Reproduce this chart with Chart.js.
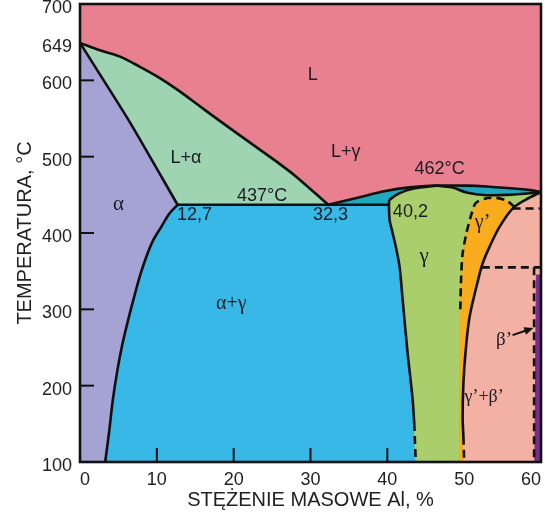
<!DOCTYPE html>
<html>
<head>
<meta charset="utf-8">
<script src="https://cdn.jsdelivr.net/npm/chart.js@4/dist/chart.umd.min.js"></script>
<style>
  html, body { margin: 0; padding: 0; background: #ffffff; }
  #wrap { width: 547px; height: 517px; }
</style>
</head>
<body>
<div id="wrap"><canvas id="c" width="547" height="517"></canvas></div>
<script>
// Mg–Al equilibrium diagram, 0–60 wt% Al, 100–700 °C

// Axis ticks
const xTicks = [0, 10, 20, 30, 40, 50, 60];
const yTicks = [100, 200, 300, 400, 500, 600, 649, 700];
const xTickMarks = [10, 20, 30, 40];
const yTickMarks = [200, 300, 400, 500, 600];

// Liquidus of the Mg solid solution (649 °C -> eutectic 32.3 %, 437 °C)
const liqAlphaX = [0, 2.59, 5.14, 7.69, 10.24, 12.8, 15.34, 17.92, 20.44, 23.0, 25.54, 28.1, 32.3];
const liqAlphaT = [649, 639.3, 631.4, 618.3, 603.8, 586.8, 568.0, 548.8, 530.5, 512.1, 493.8, 474.1, 437];

// Solidus of alpha
const solAlphaX = [0, 6.5, 12.7];
const solAlphaT = [649, 545, 437];

// Solvus of alpha
const solvAlphaX = [12.7, 11.57, 10.55, 9.53, 8.61, 7.83, 7.04, 6.26, 5.49, 4.87, 4.27, 3.82, 3.28];
const solvAlphaT = [437, 424.6, 407.6, 390.6, 368.3, 344.8, 316, 285.9, 253.1, 220.4, 181.2, 141.9, 100];

// Eutectic isotherm
const eutX = [12.7, 40.2];
const eutT = [437, 437];

// Gamma liquidus, Mg side and Al side of the 462 °C maximum
const liqGLX = [32.3, 36.4, 39.6, 42.9, 46.5];
const liqGLT = [437, 446.9, 454.7, 459.8, 462];
const liqGRX = [46.5, 50.2, 52.9, 56.8, 58.9, 60];
const liqGRT = [462, 462, 461, 458, 455.8, 453.8];

// Gamma solidus
const solGLX = [40.2, 40.3, 41.6, 43.3, 45.9, 46.5];
const solGLT = [437, 443.5, 452.3, 458, 461.5, 462];
const solGRX = [46.5, 48.5, 50.3, 52.9, 55.5, 58.9, 60];
const solGRT = [462, 459.5, 453, 449.5, 450, 452.5, 453.8];

// Gamma solvus towards alpha+gamma (solid, then dashed)
const gLeftX = [40.2, 40.3, 40.7, 41.2, 41.6, 42.0, 42.6, 43.3, 43.5];
const gLeftT = [437, 416.8, 399.7, 377.5, 355.2, 312, 246.6, 181.2, 151];
const gLeftDashX = [43.5, 43.7];
const gLeftDashT = [151, 100];

// Gamma / gamma+beta boundary (solid, then dashed)
const betaX = [60, 58.05, 56.3, 54.6, 53.3, 52.4, 51.8, 50.7, 50.2, 49.9, 49.8, 49.9];
const betaT = [453.8, 443.8, 432, 408, 381.8, 360, 338, 290, 246.6, 203, 159, 133];
const betaDashX = [49.9, 50];
const betaDashT = [133, 100];

// Gamma' field boundary
const domeX = [49.4, 49.4, 49.5, 49.6, 49.8, 50.3, 50.9, 51.5, 52.9, 54.2, 55.5, 56.6];
const domeT = [100, 200, 300, 340, 373, 400, 423, 439, 445.5, 446, 442.5, 434];

// Dashed isotherms and the beta' boundary
const iso1X = [56.3, 60];
const iso1T = [432, 432];
const iso2X = [52.3, 60];
const iso2T = [355, 355];
const betaPX = [59.1, 59.1];
const betaPT = [355, 100];

// Beta' strip
const purpleX = [59.4, 60, 60, 59.2];
const purpleT = [345, 345, 100, 100];

const X_MIN = 0, X_MAX = 60, T_MIN = 100, T_MAX = 700;

const pts = (xs, ts) => xs.map((x, i) => ({ x: x, y: ts[i] }));
const rev = a => a.slice().reverse();
const closed = a => a.concat([a[0]]);

const SANS = '"Liberation Sans", Arial, sans-serif';
const SERIF = '"Liberation Serif", "Times New Roman", serif';

// Filled phase fields, listed bottom to top
const fields = [
  { color: '#E8808F', pts: [{x: X_MIN, y: T_MAX}, {x: X_MAX, y: T_MAX}, {x: X_MAX, y: T_MIN}, {x: X_MIN, y: T_MIN}] },
  { color: '#9FD4B3', pts: [...pts(liqAlphaX, liqAlphaT), ...rev(pts(solAlphaX, solAlphaT))] },
  { color: '#A4A3D3', pts: [...pts(solAlphaX, solAlphaT), ...pts(solvAlphaX, solvAlphaT).slice(1), {x: X_MIN, y: T_MIN}] },
  { color: '#38B8E6', pts: [{x: eutX[0], y: eutT[0]}, ...pts(gLeftX, gLeftT), {x: gLeftDashX[1], y: gLeftDashT[1]}, ...rev(pts(solvAlphaX, solvAlphaT))] },
  { color: '#A9CE6B', pts: [...pts(solGLX, solGLT), ...pts(solGRX, solGRT).slice(1), {x: X_MAX, y: T_MIN}, {x: gLeftDashX[1], y: T_MIN}, ...rev(pts(gLeftX, gLeftT))] },
  { color: '#F8AC1E', pts: [...pts(domeX, domeT), {x: X_MAX, y: domeT[domeT.length - 1]}, {x: X_MAX, y: T_MIN}] },
  { color: '#F2B1A3', pts: [...pts(betaX, betaT), {x: betaDashX[1], y: betaDashT[1]}, {x: X_MAX, y: T_MIN}] },
  { color: '#7B2B8E', pts: pts(purpleX, purpleT) },
  { color: '#22A8BE', pts: [...pts(liqGLX, liqGLT), ...rev(pts(solGLX, solGLT))] },
  { color: '#22A8BE', pts: [...pts(liqGRX, liqGRT), ...rev(pts(solGRX, solGRT))] }
];

// Boundary lines: [points, tension]
const solidLines = [
  [pts(liqAlphaX, liqAlphaT), 0.3],
  [pts(solAlphaX, solAlphaT), 0.2],
  [pts(solvAlphaX, solvAlphaT), 0.3],
  [pts(eutX, eutT), 0],
  [[...pts(liqGLX, liqGLT), ...pts(liqGRX, liqGRT).slice(1)], 0.3],
  [[...pts(solGLX, solGLT), ...pts(solGRX, solGRT).slice(1)], 0.3],
  [pts(gLeftX, gLeftT), 0.3],
  [pts(betaX, betaT), 0.3]
];
const dashedLines = [
  [pts(gLeftDashX, gLeftDashT), 0],
  [pts(betaDashX, betaDashT), 0],
  [pts(domeX, domeT).slice(2), 0.3],
  [pts(iso1X, iso1T), 0],
  [pts(iso2X, iso2T), 0],
  [pts(betaPX, betaPT), 0]
];

const layers = [];
fields.forEach(f => layers.push({
  data: closed(f.pts), showLine: true, fill: 'shape',
  backgroundColor: f.color, borderColor: f.color, borderWidth: 1,
  pointRadius: 0, tension: 0
}));
solidLines.forEach(([d, t]) => layers.push({
  data: d, showLine: true, fill: false, borderColor: '#111', borderWidth: 2.6,
  borderJoinStyle: 'round', borderCapStyle: 'round', pointRadius: 0, tension: t
}));
dashedLines.forEach(([d, t]) => layers.push({
  data: d, showLine: true, fill: false, borderColor: '#111', borderWidth: 2.6,
  borderDash: [8, 5], pointRadius: 0, tension: t
}));
// lower `order` is painted later, so the list above stacks bottom to top
layers.forEach((ds, i) => { ds.order = layers.length - i; });

// Field names and characteristic values
const notes = [
  { text: 'L',        x: 30.3, y: 606.5, font: '18px ' + SANS },
  { text: 'L+α',      x: 13.8, y: 497.9, font: '18px ' + SANS },
  { text: 'L+γ',      x: 34.6, y: 505.8, font: '18px ' + SANS },
  { text: '462°C',    x: 46.8, y: 484,   font: '18px ' + SANS },
  { text: '437°C',    x: 23.7, y: 448.2, font: '18px ' + SANS },
  { text: '12,7',     x: 14.9, y: 423.3, font: '18px ' + SANS },
  { text: '32,3',     x: 32.6, y: 423.3, font: '18px ' + SANS },
  { text: '40,2',     x: 43.0, y: 427.2, font: '18px ' + SANS },
  { text: 'α',        x: 5.0,  y: 437.7, font: '21px ' + SERIF },
  { text: 'α+γ',      x: 19.7, y: 306.8, font: '20px ' + SERIF },
  { text: 'γ',        x: 44.8, y: 369.6, font: '21px ' + SERIF },
  { text: 'γ’',       x: 52.4, y: 414,   font: '20px ' + SERIF },
  { text: 'β’',       x: 55.2, y: 259.7, font: '19px ' + SERIF },
  { text: 'γ’+β’',    x: 52.6, y: 185,   font: '18px ' + SERIF }
];
const arrowFrom = { x: 56.3, y: 266.2 };
const arrowTo = { x: 59.0, y: 275.4 };

const framePlugin = {
  id: 'frame',
  afterDatasetsDraw(chart) {
    const { ctx, chartArea: a, scales: { x, y } } = chart;
    ctx.save();
    ctx.strokeStyle = '#111';
    ctx.lineWidth = 2;
    ctx.lineCap = 'butt';
    // inward tick marks
    xTickMarks.forEach(v => {
      const px = x.getPixelForValue(v);
      ctx.beginPath(); ctx.moveTo(px, a.bottom); ctx.lineTo(px, a.bottom - 14); ctx.stroke();
    });
    yTickMarks.forEach(v => {
      const py = y.getPixelForValue(v);
      ctx.beginPath(); ctx.moveTo(a.left, py); ctx.lineTo(a.left + 14, py); ctx.stroke();
    });
    // plot frame
    ctx.lineWidth = 2.6;
    ctx.strokeRect(a.left, a.top, a.right - a.left, a.bottom - a.top);

    // labels
    ctx.fillStyle = '#1c1c24';
    ctx.textAlign = 'center';
    ctx.textBaseline = 'middle';
    notes.forEach(n => {
      ctx.font = n.font;
      ctx.fillText(n.text, x.getPixelForValue(n.x), y.getPixelForValue(n.y));
    });

    // arrow pointing at the beta' strip
    const x0 = x.getPixelForValue(arrowFrom.x), y0 = y.getPixelForValue(arrowFrom.y);
    const x1 = x.getPixelForValue(arrowTo.x), y1 = y.getPixelForValue(arrowTo.y);
    const ang = Math.atan2(y1 - y0, x1 - x0);
    ctx.lineWidth = 2;
    ctx.beginPath(); ctx.moveTo(x0, y0);
    ctx.lineTo(x1 - 6 * Math.cos(ang), y1 - 6 * Math.sin(ang)); ctx.stroke();
    ctx.fillStyle = '#111';
    ctx.beginPath();
    ctx.moveTo(x1, y1);
    ctx.lineTo(x1 - 9 * Math.cos(ang) + 4 * Math.sin(ang), y1 - 9 * Math.sin(ang) - 4 * Math.cos(ang));
    ctx.lineTo(x1 - 9 * Math.cos(ang) - 4 * Math.sin(ang), y1 - 9 * Math.sin(ang) + 4 * Math.cos(ang));
    ctx.closePath(); ctx.fill();
    ctx.restore();
  }
};

new Chart(document.getElementById('c'), {
  type: 'scatter',
  data: { datasets: layers },
  plugins: [framePlugin],
  options: {
    responsive: false,
    animation: false,
    events: [],
    layout: { padding: { top: 4, right: 6, left: 0, bottom: 0 } },
    plugins: {
      legend: { display: false },
      tooltip: { enabled: false },
      filler: { propagate: false, drawTime: 'beforeDatasetDraw' }
    },
    scales: {
      x: {
        type: 'linear', min: X_MIN, max: X_MAX,
        afterBuildTicks: s => { s.ticks = xTicks.map(v => ({ value: v })); },
        afterFit: s => { s.height = 55; s.paddingLeft = 0; s.paddingRight = 0; },
        grid: { display: false, drawTicks: false },
        border: { display: false },
        ticks: { font: { family: SANS, size: 18 }, color: '#222', padding: 7, maxRotation: 0, autoSkip: false, align: 'inner' },
        title: { display: true, text: 'STĘŻENIE MASOWE Al, %', font: { family: SANS, size: 20 }, color: '#222', padding: { top: 0, bottom: 5 } }
      },
      y: {
        type: 'linear', min: T_MIN, max: T_MAX,
        afterBuildTicks: s => { s.ticks = yTicks.map(v => ({ value: v })); },
        afterFit: s => { s.width = 80; s.paddingTop = 0; s.paddingBottom = 0; },
        grid: { display: false, drawTicks: false },
        border: { display: false },
        ticks: { font: { family: SANS, size: 18 }, color: '#222', padding: 8, labelOffset: 4, autoSkip: false },
        title: { display: true, text: 'TEMPERATURA, °C', font: { family: SANS, size: 20 }, color: '#222', padding: { top: 13, bottom: 0 } }
      }
    }
  }
});
</script>
</body>
</html>
